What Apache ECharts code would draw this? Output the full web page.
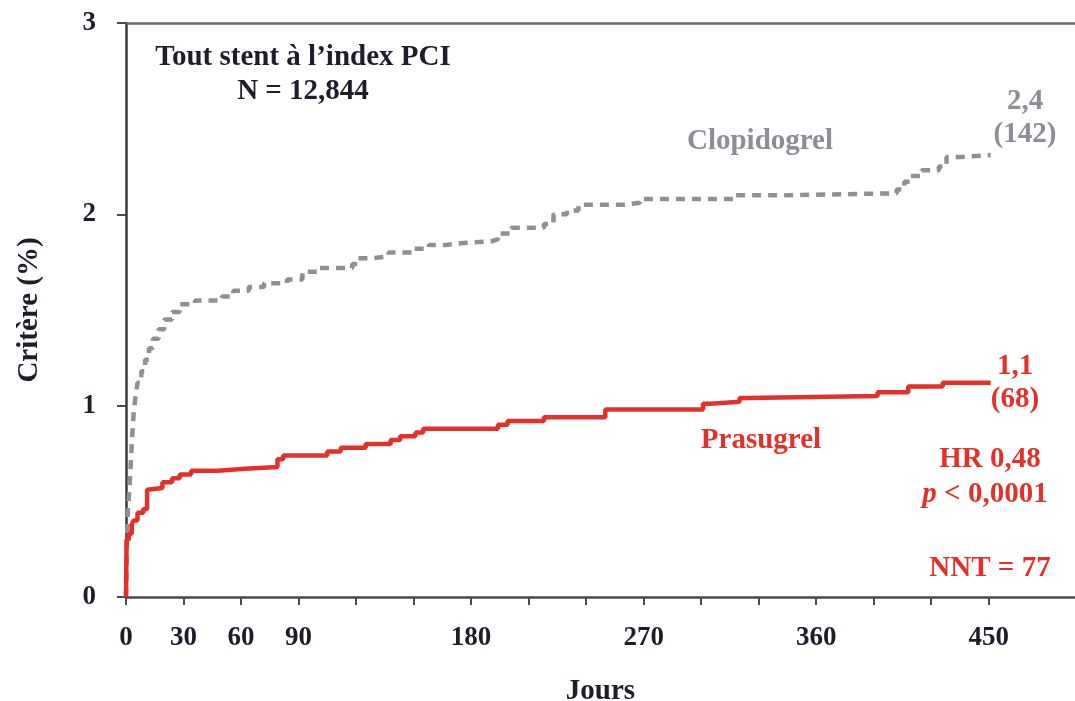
<!DOCTYPE html>
<html>
<head>
<meta charset="utf-8">
<script src="https://cdn.jsdelivr.net/npm/echarts@6/dist/echarts.min.js"></script>
<style>
html,body{margin:0;padding:0;background:#fff;}
#c{width:1075px;height:701px;}
</style>
</head>
<body>
<div id="c"></div>
<script>
// ---- data (days, cumulative endpoint %) ----
var clopidogrel = [
  [0,0],[0.5,0.3],[1,0.45],[2,0.6],[3,0.8],[4,0.96],[5,1.05],[6,1.12],[8,1.18],[10,1.24],
  [12,1.30],[14,1.35],[17,1.40],[20,1.45],[24,1.49],[28,1.53],[36,1.55],[50,1.57],[56,1.60],
  [64,1.62],[72,1.64],[84,1.66],[92,1.70],[100,1.72],[118,1.74],[121,1.77],[128,1.78],
  [137,1.80],[150,1.82],[158,1.84],[167,1.85],[176,1.86],[191,1.87],[194,1.90],[201,1.93],
  [218,1.95],[223,2.00],[230,2.02],[236,2.05],[260,2.06],[268,2.08],[318,2.10],[345,2.11],
  [402,2.13],[406,2.17],[409,2.20],[415,2.23],[424,2.25],[428,2.30],[436,2.31],[451,2.31]
];
var prasugrel = [
  [0,0],[0.3,0.30],[1.5,0.33],[3,0.38],[4,0.40],[6,0.44],[9,0.46],[11,0.56],[12,0.57],
  [19,0.60],[24,0.62],[28,0.64],[34,0.66],[48,0.67],[62,0.68],[79,0.72],[82,0.74],
  [105,0.76],[112,0.78],[125,0.80],[138,0.82],[143,0.84],[151,0.86],[155,0.88],[194,0.90],
  [199,0.92],[218,0.94],[250,0.98],[301,1.01],[305,1.02],[320,1.04],[324,1.05],[392,1.07],
  [408,1.10],[426,1.12],[451,1.12]
];
var xTicks = [0,30,60,90,120,150,180,210,240,270,300,330,360,390,420,450];
var xLabels = [0,30,60,90,180,270,360,450];
var yTicks = [0,1,2,3];

var FONT = '"Liberation Serif","DejaVu Serif",serif';
var DARK = '#1d1d2b';
var GREY_TXT = '#8b8e97';
var GREY_LINE = '#8f8f94';
var RED = '#e5302a';
var FS = 29;

var chart = echarts.init(document.getElementById('c'), null, {renderer:'canvas'});
var txt = function(x, y, s, color){
  return {type:'text', x:x, y:y, style:{text:s, fill:color, font:'bold '+FS+'px '+FONT, textAlign:'center', textVerticalAlign:'middle'}};
};
chart.setOption({
  animation:false,
  backgroundColor:'#fff',
  grid:{left:126, right:0, top:23, bottom:104, outerBoundsMode:'none', containLabel:false},
  xAxis:[{
    type:'value', min:0, max:495, position:'bottom',
    axisLine:{show:true, lineStyle:{color:'#4a4a4a', width:2.5}},
    axisTick:{show:true, customValues:xTicks, length:8, inside:false, lineStyle:{color:'#4a4a4a', width:2}},
    axisLabel:{customValues:xLabels, margin:28, color:DARK, fontFamily:FONT, fontWeight:'bold', fontSize:27},
    splitLine:{show:false},
    name:'Jours', nameLocation:'middle', nameGap:80,
    nameTextStyle:{color:DARK, fontFamily:FONT, fontWeight:'bold', fontSize:FS}
  },{
    type:'value', min:0, max:495, position:'top',
    axisLine:{show:true, lineStyle:{color:'#6a6a6a', width:2.5}},
    axisTick:{show:false}, axisLabel:{show:false}, splitLine:{show:false}
  }],
  yAxis:{
    type:'value', min:0, max:3, interval:1,
    axisLine:{show:true, lineStyle:{color:'#3a3a3a', width:2.5}},
    axisTick:{show:true, length:9, lineStyle:{color:'#4a4a4a', width:2}},
    axisLabel:{margin:30, color:DARK, fontFamily:FONT, fontWeight:'bold', fontSize:27,
      formatter:function(v){return yTicks.indexOf(v)>=0 ? String(v) : '';}},
    splitLine:{show:false},
    name:'Critère (%)', nameLocation:'middle', nameGap:82, nameRotate:90,
    nameTextStyle:{color:DARK, fontFamily:FONT, fontWeight:'bold', fontSize:FS}
  },
  series:[{
    name:'Clopidogrel', type:'line', step:'end', data:clopidogrel, showSymbol:false, symbol:'none',
    lineStyle:{color:GREY_LINE, width:4.5, type:[9,7]}, z:2
  },{
    name:'Prasugrel', type:'line', step:'end', data:prasugrel, showSymbol:false, symbol:'none',
    lineStyle:{color:RED, width:4.5}, z:3
  }],
  graphic:[
    txt(303, 58, 'Tout stent à l\u2019index PCI', DARK),
    txt(303, 92, 'N = 12,844', DARK),
    txt(760, 142, 'Clopidogrel', GREY_TXT),
    txt(1025, 102, '2,4', GREY_TXT),
    txt(1025, 135, '(142)', GREY_TXT),
    txt(1015, 367, '1,1', RED),
    txt(1015, 400, '(68)', RED),
    txt(761, 441, 'Prasugrel', RED),
    txt(990, 460, 'HR 0,48', RED),
    {type:'text', x:985, y:495, style:{text:'{i|p} < 0,0001', fill:RED, font:'bold '+FS+'px '+FONT, textAlign:'center', textVerticalAlign:'middle',
      rich:{i:{fontStyle:'italic', fontWeight:'bold', fontFamily:FONT, fontSize:FS, fill:RED}}}},
    txt(990, 569, 'NNT = 77', RED)
  ]
});
</script>
</body>
</html>
